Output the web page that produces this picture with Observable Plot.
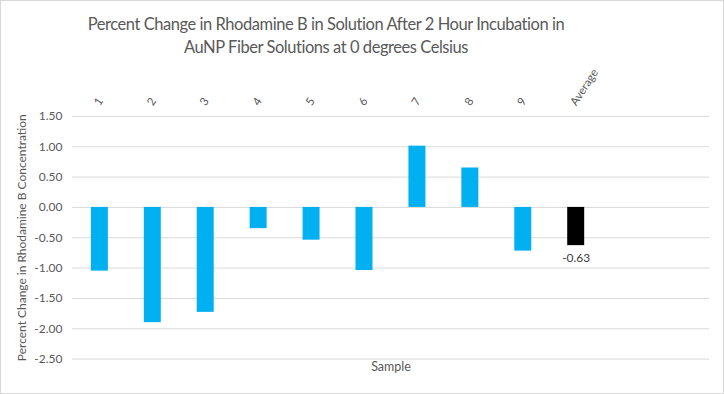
<!DOCTYPE html>
<html>
<head>
<meta charset="utf-8">
<script src="https://cdn.jsdelivr.net/npm/d3@7"></script>
<script src="https://cdn.jsdelivr.net/npm/@observablehq/plot@0.6"></script>
<style>
  html, body { margin: 0; padding: 0; background: #fff; }
  #wrap { position: relative; width: 724px; height: 394px; box-sizing: border-box; border: 1px solid #d9d9d9; overflow: hidden; font-family: Lato, "Open Sans", sans-serif; }
  #title { position: absolute; left: 0; top: 12px; width: 650px; text-align: center; color: #595959; font-size: 16.5px; letter-spacing: -0.45px; line-height: 23px; }
  #chart { position: absolute; left: -1px; top: 59px; }
</style>
</head>
<body>
<div id="wrap">
  <div id="title">Percent Change in Rhodamine B in Solution After 2 Hour Incubation in<br>AuNP Fiber Solutions at 0 degrees Celsius</div>
  <div id="chart"></div>
</div>
<script>
const categories = ["1", "2", "3", "4", "5", "6", "7", "8", "9", "Average"];
const values = [-1.05, -1.90, -1.73, -0.35, -0.54, -1.04, 1.01, 0.65, -0.72, -0.63];
const emptySlots = [" ", "  "];
const yTicks = [-2.5, -2.0, -1.5, -1.0, -0.5, 0, 0.5, 1.0, 1.5];
const averageLabel = "-0.63";

const data = categories.map((c, i) => ({ cat: c, value: values[i], avg: c === "Average" }));
const domain = categories.concat(emptySlots);

const chart = Plot.plot({
  width: 724,
  height: 335,
  marginLeft: 72,
  marginRight: 14,
  marginTop: 56,
  marginBottom: 36,
  style: { fontFamily: "Lato, 'Open Sans', sans-serif", fontSize: "12px", color: "#595959", background: "transparent", overflow: "visible" },
  x: { domain, paddingInner: 0.68, paddingOuter: 0.34, axis: null },
  y: { domain: [-2.5, 1.5], axis: null },
  marks: [
    Plot.gridY(yTicks, { stroke: "#d9d9d9", strokeOpacity: 1, strokeWidth: 1 }),
    Plot.axisY(yTicks, { tickSize: 0, tickPadding: 10, tickFormat: d => d.toFixed(2), fill: "#595959", fontSize: 12, label: null }),
    Plot.barY(data, { x: "cat", y: "value", fill: d => d.avg ? "#000000" : "#00B0F0" }),
    Plot.text(data, { x: "cat", frameAnchor: "top", text: "cat", rotate: -57, textAnchor: "start", lineAnchor: "middle", dy: -12, dx: -3, fill: "#595959", fontSize: 11.5 }),
    Plot.text(data.filter(d => d.avg), { x: "cat", y: "value", text: () => averageLabel, dy: 13, fill: "#404040", fontSize: 12 }),
    Plot.text(["Sample"], { frameAnchor: "bottom", dy: 12, fill: "#595959", fontSize: 12.5 }),
    Plot.text(["Percent Change in Rhodamine B Concentration"], { frameAnchor: "left", rotate: -90, textAnchor: "middle", dx: -50, fill: "#595959", fontSize: 12 })
  ]
});
document.getElementById("chart").appendChild(chart);
</script>
</body>
</html>
